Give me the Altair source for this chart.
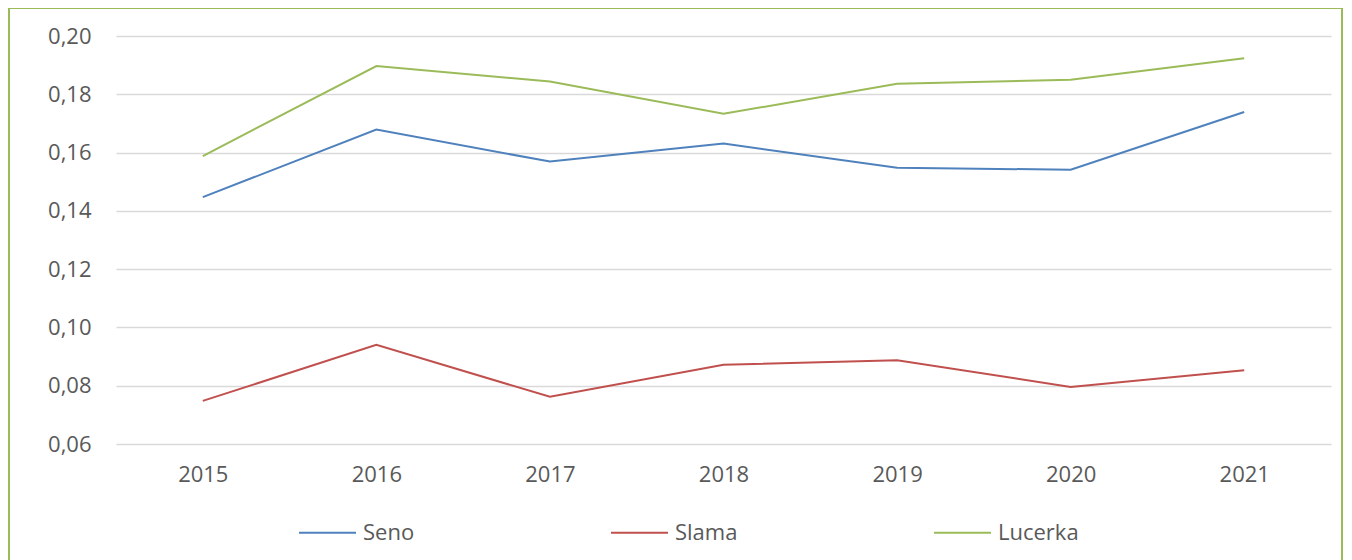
import altair as alt
import pandas as pd

years = ["2015", "2016", "2017", "2018", "2019", "2020", "2021"]
seno = [0.1447, 0.1679, 0.1569, 0.1631, 0.1548, 0.1541, 0.1739]
slama = [0.0748, 0.0940, 0.0762, 0.0872, 0.0887, 0.0796, 0.0853]
lucerka = [0.1588, 0.1897, 0.1844, 0.1733, 0.1836, 0.1850, 0.1924]
series_names = ["Seno", "Slama", "Lucerka"]
series_colors = ["#4F81BD", "#C0504D", "#9BBB59"]
y_ticks = [0.06, 0.08, 0.10, 0.12, 0.14, 0.16, 0.18, 0.20]

rows = []
for name, vals in zip(series_names, [seno, slama, lucerka]):
    for yr, v in zip(years, vals):
        rows.append({"Rok": yr, "Hodnota": v, "Série": name})
df = pd.DataFrame(rows)

FONT = "Open Sans"
TXT = "#595959"

lines = alt.Chart(df).mark_line(strokeWidth=2).encode(
    x=alt.X("Rok:O", sort=years,
            scale=alt.Scale(type="point", padding=0.5),
            axis=alt.Axis(title=None, labelAngle=0, labelFontSize=22, labelFont=FONT,
                          labelColor=TXT, ticks=False, domain=False, grid=False,
                          labelPadding=20)),
    y=alt.Y("Hodnota:Q",
            scale=alt.Scale(domain=[0.06, 0.20], nice=False, zero=False),
            axis=alt.Axis(title=None, values=y_ticks, labelFontSize=22, labelFont=FONT,
                          labelColor=TXT, ticks=False, domain=False,
                          labelExpr="replace(format(datum.value, '.2f'), '.', ',')",
                          labelPadding=25, gridColor="#D9D9D9", gridWidth=1.3)),
    color=alt.Color("Série:N", sort=series_names,
                    scale=alt.Scale(domain=series_names, range=series_colors),
                    legend=alt.Legend(title=None, orient="none", legendX=182, legendY=467,
                                      direction="horizontal", symbolType="stroke",
                                      symbolSize=3249, symbolStrokeWidth=2,
                                      labelFontSize=22, labelFont=FONT, labelColor=TXT,
                                      labelOffset=6, columnPadding=192, padding=0)),
)

border = alt.Chart(pd.DataFrame({"b": [0]})).mark_rect(
    filled=False, stroke="#9BBB59", strokeWidth=2, clip=False
).encode(
    x=alt.value(-107), x2=alt.value(1226), y=alt.value(-28), y2=alt.value(560)
)

chart = alt.layer(lines, border).properties(
    width=1215, height=408,
    autosize=alt.AutoSizeParams(type="none"),
    padding={"left": 108, "top": 28, "right": 13, "bottom": 116},
).configure_view(stroke=None)

chart.save("out.html", embed_options={"renderer": "svg", "actions": False})
